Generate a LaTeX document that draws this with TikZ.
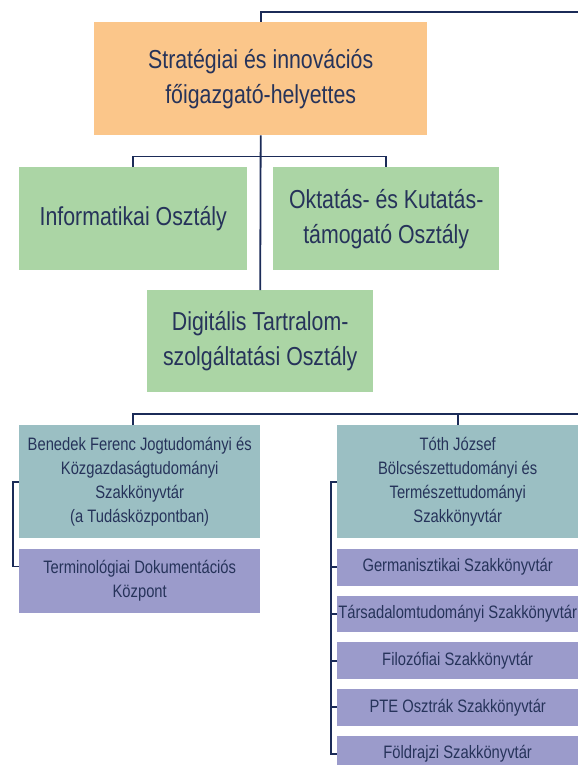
\documentclass[tikz,border=0pt]{standalone}
\usepackage{fontspec}
\setmainfont{Liberation Sans}[FakeStretch=0.82]
\usepackage{tikz}
\usetikzlibrary{positioning, calc}
\definecolor{vezcol}{HTML}{FBC68A}
\definecolor{osztcol}{HTML}{ABD5A5}
\definecolor{konyvcol}{HTML}{9BBFC3}
\definecolor{reszcol}{HTML}{9B9BCB}
\definecolor{vonal}{HTML}{1B2B58}
\definecolor{betu}{HTML}{26335A}

\begin{document}
\begin{tikzpicture}[x=1pt, y=-1pt,
    unit/.style={rectangle, 
      fill=#1, 
      inner sep=0pt, 
      anchor=north west, 
      align=center, 
      text=betu},
    nagy/.style={font=\fontsize{26}{35}\selectfont},
    kicsi/.style={font=\fontsize{18}{24}\selectfont},
    kapcs/.style={draw=vonal, line width=1.8pt}]
  \useasboundingbox (0,0) rectangle (578,765);

% UNITS

  \node [unit=vezcol, nagy, 
    minimum width=333pt, 
    minimum height=113pt] (vez) at (94,22) 
    {Stratégiai és innovációs\\főigazgató-helyettes};

  \node [unit=osztcol, nagy, 
    minimum width=228pt, 
    minimum height=103pt] (info) at (19,167) 
    {Informatikai Osztály};

  \node [unit=osztcol, nagy, 
    minimum width=226pt, 
    minimum height=103pt] (oktat) at (273,167) 
    {Oktatás- és Kutatás-\\támogató Osztály};

  \node [unit=osztcol, nagy, 
    minimum width=226pt, 
    minimum height=102pt] (digit) at (147,290) 
    {Digitális Tartralom-\\szolgáltatási Osztály};

  \node [unit=konyvcol, kicsi, 
    minimum width=241pt, 
    minimum height=113pt] (benedek) at (19,425) 
    {Benedek Ferenc Jogtudományi és\\Közgazdaságtudományi\\Szakkönyvtár\\(a Tudásközpontban)};

  \node [unit=reszcol, kicsi, 
    minimum width=241pt, 
    minimum height=64pt, 
    below=10pt of benedek.south west, 
    anchor=north west] (termin) 
    {Terminológiai Dokumentációs\\Központ};

  \node [unit=konyvcol, kicsi, 
    minimum width=241pt, 
    minimum height=113pt] (toth) at (337,425) 
    {Tóth József\\Bölcsészettudományi és\\Természettudományi\\Szakkönyvtár};

  \node [unit=reszcol, kicsi, 
    minimum width=241pt, 
    minimum height=37pt, 
    below=10pt of toth.south west, 
    anchor=north west] (germ) 
    {Germanisztikai Szakkönyvtár};

  \node [unit=reszcol, kicsi, 
    minimum width=241pt, 
    minimum height=36pt, 
    below=10pt of germ.south west, 
    anchor=north west] (tars) 
    {Társadalomtudományi Szakkönyvtár};

  \node [unit=reszcol, kicsi, 
    minimum width=241pt, 
    minimum height=37pt, 
    below=10pt of tars.south west, 
    anchor=north west] (filoz) 
    {Filozófiai Szakkönyvtár};

  \node [unit=reszcol, kicsi, 
    minimum width=241pt, 
    minimum height=37pt, 
    below=9pt of filoz.south west, 
    anchor=north west] (pte) 
    {PTE Osztrák Szakkönyvtár};

  \node [unit=reszcol, kicsi, 
    minimum width=241pt, 
    minimum height=36pt, 
    below=10pt of pte.south west, 
    anchor=north west] (foldr) 
    {Földrajzi Szakkönyvtár};

  % CONNECTIONS

  \coordinate (felso) at (578,12);
  \coordinate (also) at (578,414);

  \draw [kapcs] (vez.north) |- (felso);
  \draw [kapcs] (vez.south) -- (digit.north);
  \draw [kapcs] (info.north) |- ($(vez.south) + (0,21)$) 
  -| (oktat.north);

  \draw [kapcs] (info.north |- benedek.north) |- (also);
  \draw [kapcs] (toth.north) -- (toth.north |- also);

  \draw [kapcs] (benedek.west) -- ++(-6,0) 
  |- ($(termin.north west) + (0,18)$);

  \draw [kapcs] (toth.west) -- ++(-6,0) |- (foldr.west);
  \foreach \resz in {germ, tars, filoz, pte}
    \draw [kapcs] (\resz.west) -- ++(-6,0);

\end{tikzpicture}
\end{document}
